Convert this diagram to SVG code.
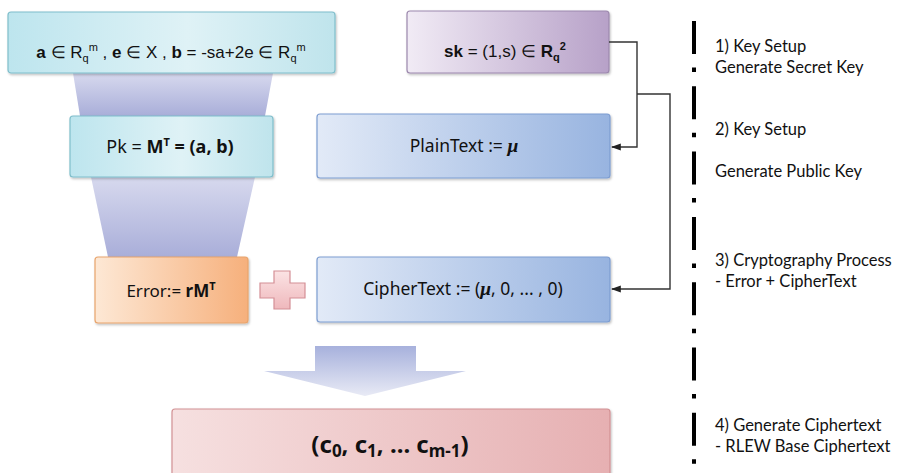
<svg xmlns="http://www.w3.org/2000/svg" width="918" height="473" viewBox="0 0 918 473">
<style>
.ar{font-family:"Liberation Sans",Arial,sans-serif;fill:#111}
.mg{font-family:"Noto Sans","Open Sans",sans-serif;fill:#111}
.b{font-weight:bold}
.mu{font-family:"Liberation Serif",serif;font-weight:bold;font-style:italic}
.side{font-family:Lato,"Noto Sans",sans-serif;font-size:16.5px;fill:#111}
.conn{fill:none;stroke:#333;stroke-width:1.4}
</style>
<defs>
<linearGradient id="gCyan" x1="0" y1="0" x2="1" y2="0"><stop offset="0" stop-color="#bde5ee"/><stop offset="0.55" stop-color="#dff2f6"/><stop offset="1" stop-color="#bfe4ec"/></linearGradient>
<linearGradient id="gPur" x1="0" y1="0" x2="1" y2="0"><stop offset="0" stop-color="#f1ebf5"/><stop offset="1" stop-color="#b7a1c8"/></linearGradient>
<linearGradient id="gBlue" x1="0" y1="0" x2="1" y2="0"><stop offset="0" stop-color="#e2eaf7"/><stop offset="1" stop-color="#98b4e0"/></linearGradient>
<linearGradient id="gOr" x1="0" y1="0" x2="1" y2="0"><stop offset="0" stop-color="#fde8d5"/><stop offset="1" stop-color="#f6b07c"/></linearGradient>
<linearGradient id="gPink" x1="0" y1="0" x2="1" y2="0"><stop offset="0" stop-color="#f6e0e0"/><stop offset="1" stop-color="#e6b0b2"/></linearGradient>
<linearGradient id="gFun" x1="0" y1="0" x2="0" y2="1"><stop offset="0" stop-color="#d7d9ee"/><stop offset="1" stop-color="#a9aed9"/></linearGradient>
<linearGradient id="gArr" x1="0" y1="0" x2="0" y2="1"><stop offset="0" stop-color="#a7b1dc"/><stop offset="1" stop-color="#e8eaf5"/></linearGradient>
<linearGradient id="gPlus" x1="0" y1="0" x2="0" y2="1"><stop offset="0" stop-color="#fbe3e4"/><stop offset="1" stop-color="#efb8bc"/></linearGradient>
<filter id="sh" x="-5%" y="-10%" width="112%" height="130%"><feDropShadow dx="1" dy="1.5" stdDeviation="1.2" flood-color="#000" flood-opacity="0.25"/></filter>
<marker id="ah" viewBox="0 0 10 10" refX="9" refY="5" markerWidth="7" markerHeight="7" orient="auto"><path d="M0,1.5 L10,5 L0,8.5 Z" fill="#222"/></marker>
</defs>
<rect width="918" height="473" fill="#fff"/>

<!-- funnels -->
<g id="funnel1"><polygon points="73,73 273,73 265,116 80,116" fill="url(#gFun)"/></g>
<g id="funnel2"><polygon points="91,177 255,177 237,257 108,257" fill="url(#gFun)"/></g>

<g id="node-params">
<rect x="8" y="12" width="327" height="61" rx="3" fill="url(#gCyan)" stroke="#7fbecb" stroke-width="1.2" filter="url(#sh)"/>
<text class="ar" x="171" y="58" font-size="17" text-anchor="middle"><tspan class="b">a</tspan> ∈ R<tspan font-size="11" dy="4">q</tspan><tspan font-size="11" dy="-11">m</tspan><tspan dy="7"> , </tspan><tspan class="b">e</tspan> ∈ X , <tspan class="b">b</tspan> = -sa+2e ∈ R<tspan font-size="11" dy="4">q</tspan><tspan font-size="11" dy="-11">m</tspan></text>
</g>

<g id="node-sk">
<rect x="407" y="11" width="202" height="62" rx="3" fill="url(#gPur)" stroke="#9c88ad" stroke-width="1.2" filter="url(#sh)"/>
<text class="ar" x="505" y="57" font-size="17" text-anchor="middle"><tspan class="b">sk</tspan> = (1,s) ∈ <tspan class="b">R</tspan><tspan class="b" font-size="11" dy="4">q</tspan><tspan class="b" font-size="11" dy="-11">2</tspan></text>
</g>

<g id="node-pk">
<rect x="70" y="116" width="203" height="61" rx="3" fill="url(#gCyan)" stroke="#7fbecb" stroke-width="1.2" filter="url(#sh)"/>
<text class="mg" x="170" y="153" font-size="18" text-anchor="middle">Pk  =  <tspan class="b">M</tspan><tspan class="b" font-size="11" dy="-7">T</tspan><tspan class="b" dy="7">  =  (a, b)</tspan></text>
</g>

<g id="node-plain">
<rect x="317" y="114" width="293" height="64" rx="3" fill="url(#gBlue)" stroke="#7d9dd1" stroke-width="1.2" filter="url(#sh)"/>
<text class="mg" x="464" y="152" font-size="17.5" text-anchor="middle">PlainText :=  <tspan class="mu" font-size="19.5">μ</tspan></text>
</g>

<g id="node-error">
<rect x="95" y="257" width="153" height="66" rx="3" fill="url(#gOr)" stroke="#e8a46c" stroke-width="1.2" filter="url(#sh)"/>
<text class="mg" x="171" y="297" font-size="17" text-anchor="middle">Error:= <tspan class="b">rM</tspan><tspan class="b" font-size="11" dy="-7">T</tspan></text>
</g>

<g id="plus">
<path d="M274,271 H290 V283 H305 V298 H290 V309 H274 V298 H260 V283 H274 Z" fill="url(#gPlus)" stroke="#d48f96" stroke-width="1.2"/>
</g>

<g id="node-cipher">
<rect x="317" y="257" width="293" height="65" rx="3" fill="url(#gBlue)" stroke="#7d9dd1" stroke-width="1.2" filter="url(#sh)"/>
<text class="mg" x="463" y="295" font-size="17.5" text-anchor="middle">CipherText := (<tspan class="mu" font-size="19.5">μ</tspan>, 0, ... , 0)</text>
</g>

<g id="bigarrow">
<polygon points="315,346 416,346 416,371 466,371 365,396 264,371 315,371" fill="url(#gArr)"/>
</g>

<g id="node-result">
<rect x="172" y="409" width="438" height="70" rx="3" fill="url(#gPink)" stroke="#d29194" stroke-width="1.2" filter="url(#sh)"/>
<text class="mg b" x="390" y="453" font-size="24" text-anchor="middle">(c<tspan font-size="17" dy="4">0</tspan><tspan dy="-4">,  c</tspan><tspan font-size="17" dy="4">1</tspan><tspan dy="-4">,  ...  c</tspan><tspan font-size="17" dy="4">m-1</tspan><tspan dy="-4">)</tspan></text>
</g>

<g id="connectors">
<polyline class="conn" points="609,42 637,42 637,147 612,147" marker-end="url(#ah)"/>
<polyline class="conn" points="637,94 670,94 670,289 612,289" marker-end="url(#ah)"/>
</g>

<g id="divider">
<line x1="694" y1="21" x2="694" y2="470" stroke="#000" stroke-width="4" stroke-dasharray="33 13.5 4.5 14.3"/>
</g>

<g id="labels">
<text class="side" x="715" y="52">1) Key Setup</text>
<text class="side" x="715" y="73">Generate Secret Key</text>
<text class="side" x="715" y="135">2) Key Setup</text>
<text class="side" x="715" y="177">Generate Public Key</text>
<text class="side" x="715" y="266">3) Cryptography Process</text>
<text class="side" x="715" y="287">- Error + CipherText</text>
<text class="side" x="715" y="431">4) Generate Ciphertext</text>
<text class="side" x="715" y="452">- RLEW Base Ciphertext</text>
</g>
</svg>
